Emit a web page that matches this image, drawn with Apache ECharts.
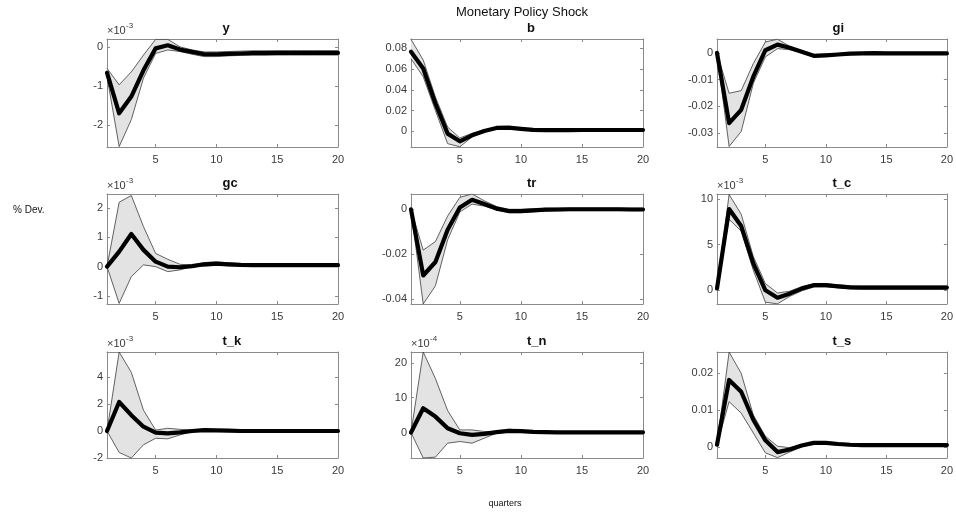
<!DOCTYPE html>
<html>
<head>
<meta charset="utf-8">
<script src="https://cdn.jsdelivr.net/npm/echarts@6/dist/echarts.min.js"></script>
<style>
  html, body { margin: 0; padding: 0; background: #fff; }
  #chart { width: 956px; height: 516px; }
</style>
</head>
<body>
<div id="chart"></div>
<script>
// Impulse responses to a monetary policy shock: median with 68% band, 20 quarters
const quarters = [1,2,3,4,5,6,7,8,9,10,11,12,13,14,15,16,17,18,19,20];

// y (x 10^-3)
const y_median = [-0.66,-1.70,-1.27,-0.60,-0.04,0.04,-0.07,-0.13,-0.19,-0.19,-0.18,-0.17,-0.16,-0.16,-0.155,-0.155,-0.155,-0.155,-0.155,-0.155];
const y_upper  = [-0.55,-0.97,-0.64,-0.21,0.19,0.19,0.00,-0.08,-0.13,-0.13,-0.12,-0.11,-0.10,-0.10,-0.10,-0.10,-0.10,-0.10,-0.10,-0.10];
const y_lower  = [-0.76,-2.55,-1.86,-0.80,-0.17,-0.08,-0.12,-0.19,-0.25,-0.25,-0.23,-0.22,-0.21,-0.21,-0.21,-0.21,-0.21,-0.21,-0.21,-0.21];

// b
const b_median = [0.0768,0.0606,0.0268,-0.0023,-0.0097,-0.0039,0.0003,0.0032,0.0035,0.0023,0.0013,0.0010,0.0010,0.0011,0.0012,0.0012,0.0012,0.0012,0.0012,0.0012];
const b_upper  = [0.0887,0.0687,0.0330,0.0040,-0.0065,-0.0020,0.0012,0.0040,0.0043,0.0031,0.0021,0.0018,0.0018,0.0019,0.0020,0.0020,0.0020,0.0020,0.0020,0.0020];
const b_lower  = [0.0700,0.0526,0.0200,-0.0120,-0.0150,-0.0055,-0.0006,0.0024,0.0027,0.0015,0.0005,0.0002,0.0002,0.0003,0.0004,0.0004,0.0004,0.0004,0.0004,0.0004];

// gi
const gi_median = [0,-0.0263,-0.0213,-0.0089,0.0010,0.0031,0.0019,0.0004,-0.0011,-0.0009,-0.0006,-0.0003,-0.0002,-0.0001,-0.0002,-0.0002,-0.0002,-0.0002,-0.0002,-0.0002];
const gi_upper  = [0,-0.0151,-0.0141,-0.0040,0.0041,0.0051,0.0025,0.0008,-0.0006,-0.0004,-0.0002,0.0001,0.0002,0.0003,0.0002,0.0002,0.0002,0.0002,0.0002,0.0002];
const gi_lower  = [0,-0.0350,-0.0294,-0.0114,-0.0015,0.0016,0.0012,0.0000,-0.0015,-0.0013,-0.0010,-0.0007,-0.0006,-0.0005,-0.0006,-0.0006,-0.0006,-0.0006,-0.0006,-0.0006];

// gc (x 10^-3)
const gc_median = [0,0.51,1.11,0.57,0.17,0.00,-0.02,0.02,0.08,0.10,0.08,0.06,0.05,0.05,0.05,0.05,0.05,0.05,0.05,0.05];
const gc_upper  = [0,2.19,2.42,1.36,0.45,0.25,0.08,0.05,0.14,0.16,0.13,0.10,0.09,0.09,0.09,0.09,0.09,0.09,0.09,0.09];
const gc_lower  = [0,-1.25,-0.34,0.06,0.00,-0.17,-0.11,0.00,0.02,0.04,0.03,0.02,0.01,0.01,0.01,0.01,0.01,0.01,0.01,0.01];

// tr
const tr_median = [0,-0.0295,-0.0235,-0.0091,0.0008,0.0042,0.0023,0.0003,-0.0008,-0.0008,-0.0005,-0.0002,-0.0001,0,0,0,0,0,-0.0001,-0.0001];
const tr_upper  = [0,-0.0182,-0.0144,-0.0030,0.0053,0.0068,0.0038,0.0012,0.0000,0.0000,0.0002,0.0004,0.0005,0.0005,0.0005,0.0005,0.0005,0.0005,0.0005,0.0005];
const tr_lower  = [0,-0.0422,-0.0341,-0.0136,-0.0012,0.0023,0.0014,-0.0003,-0.0015,-0.0015,-0.0011,-0.0008,-0.0007,-0.0006,-0.0006,-0.0006,-0.0006,-0.0006,-0.0006,-0.0006];

// t_c (x 10^-3)
const tc_median = [0.2,8.90,7.04,2.96,0.00,-0.81,-0.37,0.19,0.56,0.56,0.44,0.33,0.30,0.30,0.30,0.30,0.30,0.30,0.30,0.30];
const tc_upper  = [0.2,10.50,8.33,3.70,0.74,-0.30,-0.10,0.40,0.74,0.72,0.60,0.50,0.47,0.47,0.47,0.47,0.47,0.47,0.47,0.47];
const tc_lower  = [0.2,7.78,6.48,2.20,-1.30,-1.48,-0.67,-0.07,0.37,0.38,0.28,0.18,0.15,0.15,0.15,0.15,0.15,0.15,0.15,0.15];

// t_k (x 10^-3)
const tk_median = [0,2.15,1.17,0.32,-0.12,-0.17,-0.10,0.00,0.07,0.05,0.02,0,0,0,0,0,0,0,0,0];
const tk_upper  = [0,5.85,4.34,1.54,0.07,0.20,0.12,0.07,0.15,0.10,0.06,0.04,0.04,0.04,0.04,0.04,0.04,0.04,0.04,0.04];
const tk_lower  = [0,-1.59,-2.00,-1.02,-0.54,-0.58,-0.29,-0.05,0.00,-0.02,-0.03,-0.04,-0.04,-0.04,-0.04,-0.04,-0.04,-0.04,-0.04,-0.04];

// t_n (x 10^-4)
const tn_median = [0,6.95,4.57,1.24,-0.19,-0.67,-0.38,0.10,0.48,0.38,0.20,0.10,0.05,0.05,0.05,0.05,0.05,0.05,0.05,0.05];
const tn_upper  = [0,23.1,15.5,6.3,0.76,0.76,0.29,0.30,0.95,0.70,0.40,0.25,0.20,0.20,0.20,0.20,0.20,0.20,0.20,0.20];
const tn_lower  = [0,-7.3,-7.05,-3.05,-2.57,-3.05,-1.62,-0.19,0.10,0.10,0.00,-0.05,-0.10,-0.10,-0.10,-0.10,-0.10,-0.10,-0.10,-0.10];

// t_s
const ts_median = [0.0006,0.0182,0.0150,0.0074,0.0018,-0.0014,-0.0007,0.0004,0.0011,0.0011,0.0008,0.0006,0.0005,0.0005,0.0005,0.0005,0.0005,0.0005,0.0005,0.0005];
const ts_upper  = [0.0006,0.0258,0.0200,0.0087,0.0029,0.0002,-0.0002,0.0006,0.0014,0.0014,0.0011,0.0009,0.0008,0.0008,0.0008,0.0008,0.0008,0.0008,0.0008,0.0008];
const ts_lower  = [0.0006,0.0123,0.0092,0.0038,-0.0016,-0.0029,-0.0014,0.0001,0.0008,0.0008,0.0005,0.0003,0.0002,0.0002,0.0002,0.0002,0.0002,0.0002,0.0002,0.0002];

// Panel titles, exponents and y tick labels
const panelNames = ['y','b','gi','gc','tr','t_c','t_k','t_n','t_s'];
const panelExponents = [-3, null, null, -3, null, -3, -3, -4, null];
const xTicks = [5, 10, 15, 20];
const yTicks = [
  [-2,-1,0],
  [0,0.02,0.04,0.06,0.08],
  [-0.03,-0.02,-0.01,0],
  [-1,0,1,2],
  [-0.04,-0.02,0],
  [0,5,10],
  [-2,0,2,4],
  [0,10,20],
  [0,0.01,0.02]
];
const yMin = [-2.56,-0.0152,-0.0352,-1.27,-0.0422,-1.5,-2.0,-7.3,-0.003];
const yMax = [0.2,0.089,0.0052,2.47,0.0068,10.55,5.85,23.1,0.0258];

const medians = [y_median,b_median,gi_median,gc_median,tr_median,tc_median,tk_median,tn_median,ts_median];
const uppers  = [y_upper,b_upper,gi_upper,gc_upper,tr_upper,tc_upper,tk_upper,tn_upper,ts_upper];
const lowers  = [y_lower,b_lower,gi_lower,gc_lower,tr_lower,tc_lower,tk_lower,tn_lower,ts_lower];

// Layout of the 3x3 panel grid
const colLeft = [107, 411, 717];
const colWidth = [231, 232, 231];
const rowTop = [39, 194, 352];
const rowHeight = [108, 110, 106];

const FONT = '"Liberation Sans", Arial, Helvetica, sans-serif';
const AXIS_COLOR = '#8a8a8a';
const LABEL_COLOR = '#3a3a3a';

function fmt(v) { return String(parseFloat(Number(v).toPrecision(8))); }
function pairs(arr) { return quarters.map((q, k) => [q, arr[k]]); }

const grids = [], xAxes = [], yAxes = [], series = [], graphics = [];

for (let i = 0; i < 9; i++) {
  const r = Math.floor(i / 3), c = i % 3;
  const left = colLeft[c], top = rowTop[r], w = colWidth[c], h = rowHeight[r];
  grids.push({ left: left, top: top, width: w, height: h, show: false });

  const tickStyle = { color: AXIS_COLOR, width: 1 };
  const baseX = {
    gridIndex: i, type: 'value', min: 1, max: 20,
    splitLine: { show: false },
    axisLine: { show: true, onZero: false, lineStyle: { color: AXIS_COLOR, width: 1 } },
    axisTick: { show: true, inside: true, length: 3, customValues: xTicks, lineStyle: tickStyle }
  };
  xAxes.push(Object.assign({}, baseX, {
    position: 'bottom',
    axisLabel: { customValues: xTicks, color: LABEL_COLOR, fontSize: 11, fontFamily: FONT, margin: 7, formatter: fmt }
  }));
  xAxes.push(Object.assign({}, baseX, { position: 'top', axisLabel: { show: false } }));

  const baseY = {
    gridIndex: i, type: 'value', min: yMin[i], max: yMax[i],
    splitLine: { show: false },
    axisLine: { show: true, onZero: false, lineStyle: { color: AXIS_COLOR, width: 1 } },
    axisTick: { show: true, inside: true, length: 3, customValues: yTicks[i], lineStyle: tickStyle }
  };
  yAxes.push(Object.assign({}, baseY, {
    position: 'left',
    axisLabel: { customValues: yTicks[i], color: LABEL_COLOR, fontSize: 11, fontFamily: FONT, margin: 4, formatter: fmt }
  }));
  yAxes.push(Object.assign({}, baseY, { position: 'right', axisLabel: { show: false } }));

  const xi = 2 * i, yi = 2 * i;
  const up = uppers[i], lo = lowers[i];

  // shaded band between lower and upper bounds
  series.push({
    type: 'custom', xAxisIndex: xi, yAxisIndex: yi, silent: true, z: 1,
    data: [[quarters[0], up[0]]],
    renderItem: function (params, api) {
      const pts = [];
      for (let k = 0; k < quarters.length; k++) pts.push(api.coord([quarters[k], up[k]]));
      for (let k = quarters.length - 1; k >= 0; k--) pts.push(api.coord([quarters[k], lo[k]]));
      return { type: 'polygon', shape: { points: pts }, style: { fill: '#e3e3e3', stroke: null } };
    }
  });
  const thin = { color: '#3c3c3c', width: 0.8 };
  series.push({ type: 'line', xAxisIndex: xi, yAxisIndex: yi, data: pairs(up), symbol: 'none', silent: true, z: 2, lineStyle: thin });
  series.push({ type: 'line', xAxisIndex: xi, yAxisIndex: yi, data: pairs(lo), symbol: 'none', silent: true, z: 2, lineStyle: thin });
  series.push({ type: 'line', xAxisIndex: xi, yAxisIndex: yi, data: pairs(medians[i]), symbol: 'none', silent: true, z: 3,
    lineStyle: { color: '#000', width: 4.2, join: 'round', cap: 'round' } });

  // panel title
  graphics.push({ type: 'text', left: left + w / 2, top: top - 17, silent: true,
    style: { text: panelNames[i], font: 'bold 13px ' + FONT, fill: '#111', align: 'center' } });

  // exponent label above the y axis
  if (panelExponents[i] !== null) {
    graphics.push({ type: 'text', x: left, y: top - 14, silent: true,
      style: { text: '\u00d710', font: '11px ' + FONT, fill: LABEL_COLOR, align: 'left', verticalAlign: 'top' } });
    graphics.push({ type: 'text', x: left + 19, y: top - 17, silent: true,
      style: { text: String(panelExponents[i]), font: '8px ' + FONT, fill: LABEL_COLOR, align: 'left', verticalAlign: 'top' } });
  }
}

graphics.push({ type: 'text', x: 522, y: 6, silent: true,
  style: { text: 'Monetary Policy Shock', font: '13px ' + FONT, fill: '#111', align: 'center', verticalAlign: 'top' } });
graphics.push({ type: 'text', x: 13, y: 205, silent: true,
  style: { text: '% Dev.', font: '10px ' + FONT, fill: '#111', align: 'left', verticalAlign: 'top' } });
graphics.push({ type: 'text', x: 505, y: 499, silent: true,
  style: { text: 'quarters', font: '9px ' + FONT, fill: '#111', align: 'center', verticalAlign: 'top' } });

const chart = echarts.init(document.getElementById('chart'), null, { renderer: 'canvas' });
chart.setOption({
  animation: false,
  backgroundColor: '#ffffff',
  grid: grids,
  xAxis: xAxes,
  yAxis: yAxes,
  series: series,
  graphic: graphics
});
</script>
</body>
</html>
